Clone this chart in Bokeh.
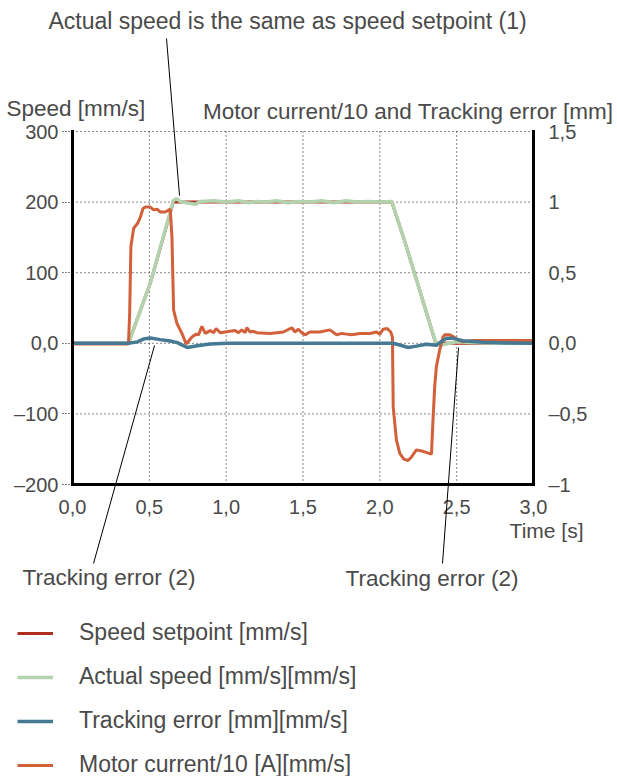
from bokeh.plotting import figure
from bokeh.models import Range1d, LinearAxis, Label, Arrow, Legend, LegendItem, FixedTicker
from bokeh.embed import file_html
from bokeh.resources import INLINE

# ---------------- data ----------------
setpoint_t = [0.0, 0.364, 0.506, 0.656, 2.078, 2.16, 2.24, 2.364, 3.0]
setpoint_v = [0, 0, 85, 200, 200, 146, 89, 0, 0]

actual_t = [0.0, 0.364, 0.506, 0.656, 0.675, 0.70, 0.74, 0.80, 0.83, 0.92,
            1.00, 1.08, 1.15, 1.20, 1.26, 1.33, 1.40, 1.47, 1.55, 1.62,
            1.70, 1.78, 1.85, 1.92, 2.00, 2.078, 2.16, 2.24, 2.364, 2.41,
            2.50, 2.60, 2.75, 3.0]
actual_v = [0, 0, 85, 202, 205, 201, 199, 197, 201, 202,
            200, 202, 199, 201, 200, 202, 199, 201, 200, 202,
            199, 202, 200, 201, 200, 201, 146, 89, 0, -2,
            2, 1, 0, 0]

track_t = [0.0, 0.364, 0.422, 0.461, 0.506, 0.571, 0.636, 0.682, 0.747, 0.812,
           0.896, 1.006, 2.084, 2.13, 2.184, 2.238, 2.303, 2.368, 2.40, 2.433,
           2.476, 2.541, 2.671, 2.823, 3.0]
track_v = [0, 0, 0.01, 0.03, 0.037, 0.026, 0.016, 0.005, -0.03, -0.018,
           -0.005, 0, 0, -0.012, -0.03, -0.02, -0.007, -0.014, 0.012, 0.035,
           0.035, 0.018, 0.007, 0.002, 0]

motor_t = [0.0, 0.364, 0.372, 0.380, 0.398, 0.424, 0.442, 0.459, 0.474, 0.506,
           0.528, 0.55, 0.571, 0.604, 0.636, 0.647, 0.658, 0.68, 0.712, 0.74,
           0.777, 0.805, 0.820, 0.842, 0.864, 0.896, 0.918, 0.935, 0.961, 1.058,
           1.08, 1.102, 1.123, 1.134, 1.156, 1.177, 1.199, 1.286, 1.372, 1.427,
           1.448, 1.47, 1.492, 1.513, 1.545, 1.61, 1.675, 1.719, 1.751, 1.784,
           1.816, 1.870, 1.935, 1.978, 2.0, 2.022, 2.048, 2.071, 2.082, 2.087,
           2.108, 2.13, 2.156, 2.184, 2.206, 2.238, 2.281, 2.336, 2.346, 2.357,
           2.368, 2.39, 2.411, 2.422, 2.455, 2.481, 2.509, 2.541, 2.606, 3.0]
motor_v = [-1, -1, 42, 137, 163, 170, 179, 191, 193, 193,
           189, 190, 186, 186, 190, 151, 47, 28, 14, -1,
           9, 13, 12, 24, 14, 18, 15, 21, 15, 18,
           15, 19, 15, 22, 16, 17, 15, 14, 16, 22,
           16, 20, 15, 12, 16, 16, 19, 12, 14, 13,
           12, 14, 14, 16, 13, 20, 21, 16, 9, -90,
           -137, -156, -164, -166, -161, -151, -153, -157, -109, -61,
           -33, -9, 9, 12, 12, 9, 5, 2, 4, 4]

x_ticks = [0.0, 0.5, 1.0, 1.5, 2.0, 2.5, 3.0]
x_tick_labels = ["0,0", "0,5", "1,0", "1,5", "2,0", "2,5", "3,0"]
yl_ticks = [-200, -100, 0, 100, 200, 300]
yl_tick_labels = ["\u2013200", "\u2013100", "0,0", "100", "200", "300"]
yr_ticks = [-1.0, -0.5, 0.0, 0.5, 1.0, 1.5]
yr_tick_labels = ["\u20131", "\u20130,5", "0,0", "0,5", "1", "1,5"]

legend_labels = ["Speed setpoint [mm/s]", "Actual speed [mm/s][mm/s]",
                 "Tracking error [mm][mm/s]", "Motor current/10 [A][mm/s]"]

# ---------------- layout ----------------
FONT = "Liberation Sans"
TXT = "#4a4a4a"
C_SET, C_ACT, C_TRK, C_MOT = "#ad2f1c", "#b3d3ae", "#467a93", "#d2603a"

X0, X1 = 0.0, 3.0
YL0, YL1 = -200.0, 300.0
YR0, YR1 = -1.0, 1.5
CW, CH = 617, 776                 # canvas (= frame) size
DL, DR, DT, DB = 72, 533, 131, 484  # plotting area inside the canvas, px

sx = (X1 - X0) / (DR - DL)
syl = (YL1 - YL0) / (DB - DT)
syr = (YR1 - YR0) / (DB - DT)

p = figure(width=CW, height=CH, min_border=0,
           x_range=Range1d(X0 - DL * sx, X1 + (CW - DR) * sx),
           y_range=Range1d(YL0 - (CH - DB) * syl, YL1 + DT * syl),
           x_axis_location=None, y_axis_location=None,
           output_backend="svg", toolbar_location=None)
p.extra_y_ranges = {"right": Range1d(YR0 - (CH - DB) * syr, YR1 + DT * syr)}
p.outline_line_color = None
p.background_fill_color = "white"
p.border_fill_color = "white"
p.xgrid.visible = False
p.ygrid.visible = False


def pg(px, py):
    """canvas pixel -> data coordinates (annotation placement only)"""
    return X0 + (px - DL) * sx, YL1 - (py - DT) * syl


# dotted grid (within the plotting area)
p.segment(x0=x_ticks, y0=[YL0] * len(x_ticks), x1=x_ticks, y1=[YL1] * len(x_ticks),
          line_color="#111111", line_dash="1 3", line_width=1)
p.segment(x0=[X0] * len(yl_ticks), y0=yl_ticks, x1=[X1] * len(yl_ticks), y1=yl_ticks,
          line_color="#111111", line_dash="1 3", line_width=1)

# axes
ax_b = LinearAxis(fixed_location=YL0, bounds=(X0, X1), ticker=FixedTicker(ticks=x_ticks))
ax_b.major_label_overrides = dict(zip(x_ticks, x_tick_labels))
ax_l = LinearAxis(fixed_location=X0, bounds=(YL0, YL1), ticker=FixedTicker(ticks=yl_ticks))
ax_l.major_label_overrides = dict(zip(yl_ticks, yl_tick_labels))
ax_r = LinearAxis(fixed_location=X1, bounds=(YR0, YR1), y_range_name="right",
                  ticker=FixedTicker(ticks=yr_ticks))
ax_r.major_label_overrides = dict(zip(yr_ticks, yr_tick_labels))
for ax in [ax_b, ax_l, ax_r]:
    ax.axis_line_width = 3
    ax.axis_line_color = "black"
    ax.axis_line_cap = "square"
    ax.minor_tick_line_color = None
    ax.major_tick_in = 0
    ax.major_label_text_font = FONT
    ax.major_label_text_font_size = "20px"
    ax.major_label_text_color = TXT
ax_b.major_tick_out = 0
ax_b.major_tick_line_color = None
ax_b.major_label_standoff = 15
ax_r.major_tick_out = 0
ax_r.major_tick_line_color = None
ax_r.major_label_standoff = 15
ax_l.major_tick_out = 10
ax_l.major_tick_line_dash = "1 2"
ax_l.major_tick_line_width = 1
ax_l.major_label_standoff = 4
p.add_layout(ax_b, "below")
p.add_layout(ax_l, "left")
p.add_layout(ax_r, "right")

# series
r_set = p.line(setpoint_t, setpoint_v, line_color=C_SET, line_width=3)
r_act = p.line(actual_t, actual_v, line_color=C_ACT, line_width=3.5)
r_mot = p.line(motor_t, motor_v, line_color=C_MOT, line_width=3)
r_trk = p.line(track_t, track_v, line_color=C_TRK, line_width=3.5, y_range_name="right")

legend = Legend(items=[LegendItem(label=legend_labels[0], renderers=[r_set]),
                       LegendItem(label=legend_labels[1], renderers=[r_act]),
                       LegendItem(label=legend_labels[2], renderers=[r_trk]),
                       LegendItem(label=legend_labels[3], renderers=[r_mot])],
                location=(17, -2), orientation="vertical",
                border_line_color=None, background_fill_alpha=0,
                padding=0, margin=0, spacing=17,
                glyph_width=36, glyph_height=26, label_height=26,
                label_standoff=26, label_text_font=FONT,
                label_text_font_size="23px", label_text_color=TXT)
p.add_layout(legend)


def add_text(txt, px, py, align="left", size="22px"):
    x, y = pg(px, py)
    p.add_layout(Label(x=x, y=y, text=txt, text_align=align, text_baseline="alphabetic",
                       text_font=FONT, text_font_size=size, text_color=TXT))


add_text("Actual speed is the same as speed setpoint (1)", 287, 20, "center", "23px")
add_text("Speed [mm/s]", 6, 108, "left", "22.5px")
add_text("Motor current/10 and Tracking error [mm]", 613, 111, "right", "22.5px")
add_text("Time [s]", 583, 530, "right", "21px")
add_text("Tracking error (2)", 22, 577, "left", "22.5px")
add_text("Tracking error (2)", 345, 578, "left", "22.5px")


def add_leader(p0, p1):
    x0, y0 = pg(*p0)
    x1, y1 = pg(*p1)
    p.add_layout(Arrow(x_start=x0, y_start=y0, x_end=x1, y_end=y1, start=None, end=None,
                       line_color="black", line_width=1))


add_leader((166, 38), (179, 195))
add_leader((93, 563), (154, 345))
add_leader((442, 563), (458, 347))

open("out.html", "w").write(file_html(p, INLINE))
